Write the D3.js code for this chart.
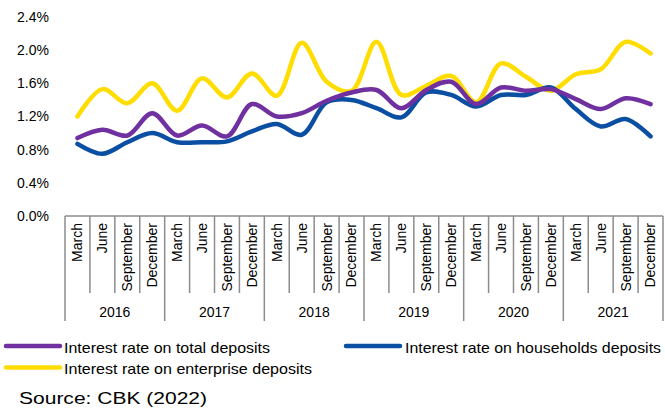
<!DOCTYPE html>
<html>
<head>
<meta charset="utf-8">
<script src="https://cdn.jsdelivr.net/npm/d3@7"></script>
<style>
  html, body { margin: 0; padding: 0; background: #fff; }
  svg { display: block; font-family: "Liberation Sans", Arial, sans-serif; }
</style>
</head>
<body>
<svg id="chart" width="665" height="408"></svg>
<script>
// Quarterly deposit interest rates, 2016–2021 (percent)
const years = ["2016", "2017", "2018", "2019", "2020", "2021"];
const quarters = ["March", "June", "September", "December"];
const yTicks = [0, 0.4, 0.8, 1.2, 1.6, 2.0, 2.4];

const totalDeposits = [0.94, 1.04, 0.97, 1.24, 0.97, 1.09, 0.96, 1.35, 1.20, 1.24, 1.39, 1.49,
                       1.52, 1.30, 1.52, 1.62, 1.35, 1.55, 1.51, 1.53, 1.41, 1.29, 1.42, 1.35];
const householdDeposits = [0.87, 0.75, 0.89, 1.00, 0.89, 0.89, 0.90, 1.02, 1.11, 0.98, 1.37, 1.40,
                           1.30, 1.19, 1.49, 1.46, 1.32, 1.46, 1.46, 1.55, 1.29, 1.08, 1.17, 0.96];
const enterpriseDeposits = [1.20, 1.53, 1.36, 1.60, 1.27, 1.66, 1.43, 1.72, 1.45, 2.09, 1.62, 1.51,
                            2.10, 1.46, 1.57, 1.69, 1.37, 1.84, 1.68, 1.51, 1.71, 1.77, 2.10, 1.96];

const seriesNames = ["Interest rate on total deposits", "Interest rate on households deposits",
                     "Interest rate on enterprise deposits"];
const seriesColors = ["#7030a0", "#0b4fa2", "#ffdd00"];

// one category per (year, quarter)
const categories = years.flatMap(y => quarters.map(q => ({ year: y, quarter: q, key: y + "-" + q })));

const svg = d3.select("#chart");
const plotLeft = 65, plotRight = 663, plotTop = 17, plotBottom = 216;

const x = d3.scaleBand().domain(categories.map(c => c.key)).range([plotLeft, plotRight]).padding(0);
const y = d3.scaleLinear().domain([0, 2.4]).range([plotBottom, plotTop]);

// y-axis labels (no axis line, no gridlines)
const yAxis = d3.axisLeft(y).tickValues(yTicks).tickSize(0).tickPadding(16)
  .tickFormat(d => d3.format(".1f")(d) + "%");
const yAxisG = svg.append("g").attr("transform", `translate(${plotLeft},0)`).call(yAxis);
yAxisG.select(".domain").remove();
yAxisG.selectAll("text")
  .attr("font-size", 14).attr("fill", "#000")
  .attr("font-family", "'Liberation Sans', Arial, sans-serif");

// category axis: quarter labels and year group labels with separators
const axisColor = "#8c8c8c";
const monthLineEnd = 293, yearLineEnd = 321;
const axisG = svg.append("g");
axisG.append("line")
  .attr("x1", plotLeft).attr("x2", plotRight).attr("y1", plotBottom).attr("y2", plotBottom)
  .attr("stroke", axisColor).attr("stroke-width", 1.5);

categories.forEach(c => {
  const x0 = x(c.key);
  const isYearStart = c.quarter === quarters[0];
  axisG.append("line")
    .attr("x1", x0).attr("x2", x0)
    .attr("y1", plotBottom).attr("y2", isYearStart ? yearLineEnd : monthLineEnd)
    .attr("stroke", axisColor).attr("stroke-width", 1.5);
  axisG.append("text")
    .attr("transform", `translate(${x0 + x.bandwidth() / 2},223) rotate(-90)`)
    .attr("text-anchor", "end")
    .attr("dy", "0.35em")
    .attr("font-size", 14)
    .attr("fill", "#000")
    .text(c.quarter);
});
axisG.append("line")
  .attr("x1", plotRight).attr("x2", plotRight).attr("y1", plotBottom).attr("y2", yearLineEnd)
  .attr("stroke", axisColor).attr("stroke-width", 1.5);

years.forEach(yr => {
  const first = x(yr + "-" + quarters[0]);
  const last = x(yr + "-" + quarters[quarters.length - 1]) + x.bandwidth();
  axisG.append("text")
    .attr("x", (first + last) / 2).attr("y", 317)
    .attr("text-anchor", "middle")
    .attr("font-size", 14)
    .attr("fill", "#000")
    .text(yr);
});

// smoothed lines
const seriesData = [totalDeposits, householdDeposits, enterpriseDeposits];
const line = d3.line()
  .x((d, i) => x(categories[i].key) + x.bandwidth() / 2)
  .y(d => y(d))
  .curve(d3.curveCatmullRom.alpha(0.5));

// draw order: enterprise, households, total on top where they overlap
[2, 1, 0].forEach(s => {
  svg.append("path")
    .datum(seriesData[s])
    .attr("d", line)
    .attr("fill", "none")
    .attr("stroke", seriesColors[s])
    .attr("stroke-width", 4.5)
    .attr("stroke-linecap", "round")
    .attr("stroke-linejoin", "round");
});

// legend (text stretched horizontally to the legend's wide lettering)
const legendItems = [
  { s: 0, lx: 6, tx: 64, ly: 346, ty: 353, w: 206 },
  { s: 1, lx: 346, tx: 405, ly: 346, ty: 353, w: 256 },
  { s: 2, lx: 6, tx: 64, ly: 367.5, ty: 374, w: 248 }
];
const legend = svg.append("g");
legendItems.forEach(it => {
  legend.append("line")
    .attr("x1", it.lx).attr("x2", it.lx + 54)
    .attr("y1", it.ly).attr("y2", it.ly)
    .attr("stroke", seriesColors[it.s]).attr("stroke-width", 4.5)
    .attr("stroke-linecap", "round");
  legend.append("text")
    .attr("x", it.tx).attr("y", it.ty)
    .attr("font-size", 14.5)
    .attr("textLength", it.w)
    .attr("lengthAdjust", "spacingAndGlyphs")
    .attr("fill", "#000")
    .text(seriesNames[it.s]);
});

svg.append("text")
  .attr("x", 19).attr("y", 404)
  .attr("font-size", 16)
  .attr("textLength", 188)
  .attr("lengthAdjust", "spacingAndGlyphs")
  .attr("fill", "#000")
  .text("Source: CBK (2022)");
</script>
</body>
</html>
